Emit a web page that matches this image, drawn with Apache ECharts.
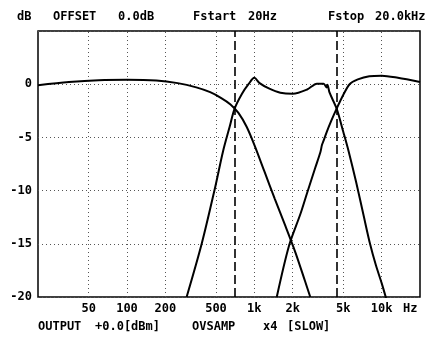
<!DOCTYPE html>
<html>
<head>
<meta charset="utf-8">
<script src="https://cdn.jsdelivr.net/npm/echarts@6/dist/echarts.min.js"></script>
<style>
  html, body { margin: 0; padding: 0; background: #fff; }
  #chart { width: 439px; height: 338px; }
</style>
</head>
<body>
<div id="chart"></div>
<script>
const FONT = '"DejaVu Sans Mono", monospace';

// woofer (low pass)
const lowFreq = [20, 35, 60, 100, 170, 250, 350, 450, 550, 650, 750, 870, 1000, 1200, 1450, 1750, 2100, 2500, 2750];
const lowDb   = [-0.1, 0.2, 0.38, 0.42, 0.35, 0.1, -0.3, -0.75, -1.3, -1.9, -2.7, -4.0, -5.7, -8.2, -10.8, -13.3, -15.8, -18.5, -20];

// midrange (band pass)
const midFreq = [294, 386, 490, 568, 640, 700, 800, 900, 1000, 1100, 1300, 1600, 2000, 2600, 3100, 3500, 3700, 3750, 3900, 4430, 5000, 5500, 6300, 7200, 8100, 9000, 10000, 11000];
const midDb   = [-20, -15, -9.8, -6.3, -4.0, -2.3, -0.9, 0, 0.6, 0.1, -0.4, -0.8, -0.9, -0.5, 0.05, 0.05, -0.3, -0.05, -0.8, -2.3, -4.5, -6.3, -9.2, -12.3, -15, -17, -18.7, -20.4];

// tweeter (high pass)
const highFreq = [1500, 1870, 2300, 2600, 3000, 3300, 3400, 3500, 3700, 4000, 4430, 5000, 5600, 6500, 8000, 10000, 13400, 20000];
const highDb   = [-20, -15.2, -12.2, -10.2, -7.9, -6.4, -5.7, -5.3, -4.5, -3.5, -2.3, -1.0, 0, 0.45, 0.75, 0.8, 0.6, 0.2];

const freqTicks = [50, 100, 200, 500, 1000, 2000, 5000, 10000];
const freqTickLabels = ['50', '100', '200', '500', '1k', '2k', '5k', '10k'];
const crossoverFreqs = [700, 4430];

const zip = (xs, ys) => xs.map((x, i) => [x, ys[i]]);

const curve = (name, xs, ys) => ({
  name: name,
  type: 'line',
  data: zip(xs, ys),
  smooth: 0.3,
  symbol: 'none',
  clip: true,
  lineStyle: { color: '#000', width: 2 },
  z: 5
});

const chart = echarts.init(document.getElementById('chart'));

const option = {
  animation: false,
  backgroundColor: '#fff',
  grid: {
    left: 38, right: 19, top: 31, bottom: 41,
    show: true, borderColor: '#000', borderWidth: 1.5
  },
  xAxis: {
    type: 'log',
    logBase: 10,
    min: 20,
    max: 20000,
    axisLine: { show: false },
    axisTick: { show: false },
    splitLine: { show: false },
    axisLabel: {
      customValues: freqTicks,
      formatter: v => {
        const i = freqTicks.findIndex(t => Math.abs(t - v) / t < 0.01);
        return i >= 0 ? freqTickLabels[i] : '';
      },
      color: '#000',
      fontFamily: FONT,
      fontWeight: 'bold',
      fontSize: 12,
      margin: 6
    }
  },
  yAxis: {
    type: 'value',
    min: -20,
    max: 5,
    interval: 5,
    axisLine: { show: false },
    axisTick: { show: false },
    splitLine: { show: true, lineStyle: { color: '#555', type: [1, 3], width: 1 } },
    axisLabel: {
      formatter: v => (v === 5 ? '' : String(v)),
      color: '#000',
      fontFamily: FONT,
      fontWeight: 'bold',
      fontSize: 12,
      margin: 6
    }
  },
  graphic: [
    { type: 'text', left: 17, top: 11, style: { text: 'dB', font: 'bold 12px ' + FONT, fill: '#000' } },
    { type: 'text', left: 53, top: 11, style: { text: 'OFFSET', font: 'bold 12px ' + FONT, fill: '#000' } },
    { type: 'text', left: 118, top: 11, style: { text: '0.0dB', font: 'bold 12px ' + FONT, fill: '#000' } },
    { type: 'text', left: 193, top: 11, style: { text: 'Fstart', font: 'bold 12px ' + FONT, fill: '#000' } },
    { type: 'text', left: 248, top: 11, style: { text: '20Hz', font: 'bold 12px ' + FONT, fill: '#000' } },
    { type: 'text', left: 328, top: 11, style: { text: 'Fstop', font: 'bold 12px ' + FONT, fill: '#000' } },
    { type: 'text', left: 375, top: 11, style: { text: '20.0kHz', font: 'bold 12px ' + FONT, fill: '#000' } },
    { type: 'text', left: 403, top: 303, style: { text: 'Hz', font: 'bold 12px ' + FONT, fill: '#000' } },
    { type: 'text', left: 38, top: 321, style: { text: 'OUTPUT', font: 'bold 12px ' + FONT, fill: '#000' } },
    { type: 'text', left: 95, top: 321, style: { text: '+0.0[dBm]', font: 'bold 12px ' + FONT, fill: '#000' } },
    { type: 'text', left: 192, top: 321, style: { text: 'OVSAMP', font: 'bold 12px ' + FONT, fill: '#000' } },
    { type: 'text', left: 263, top: 321, style: { text: 'x4', font: 'bold 12px ' + FONT, fill: '#000' } },
    { type: 'text', left: 287, top: 321, style: { text: '[SLOW]', font: 'bold 12px ' + FONT, fill: '#000' } }
  ],
  series: [
    {
      name: 'grid',
      type: 'line',
      data: [],
      markLine: {
        silent: true,
        symbol: 'none',
        label: { show: false },
        lineStyle: { color: '#555', type: [1, 3], width: 1 },
        data: freqTicks.map(f => ({ xAxis: f }))
      }
    },
    {
      name: 'crossover',
      type: 'line',
      data: [],
      z: 4,
      markLine: {
        silent: true,
        symbol: 'none',
        label: { show: false },
        lineStyle: { color: '#000', type: [9, 4], width: 1.6 },
        data: crossoverFreqs.map(f => ({ xAxis: f }))
      }
    },
    curve('woofer', lowFreq, lowDb),
    curve('mid', midFreq, midDb),
    curve('tweeter', highFreq, highDb)
  ]
};

chart.setOption(option);
</script>
</body>
</html>
